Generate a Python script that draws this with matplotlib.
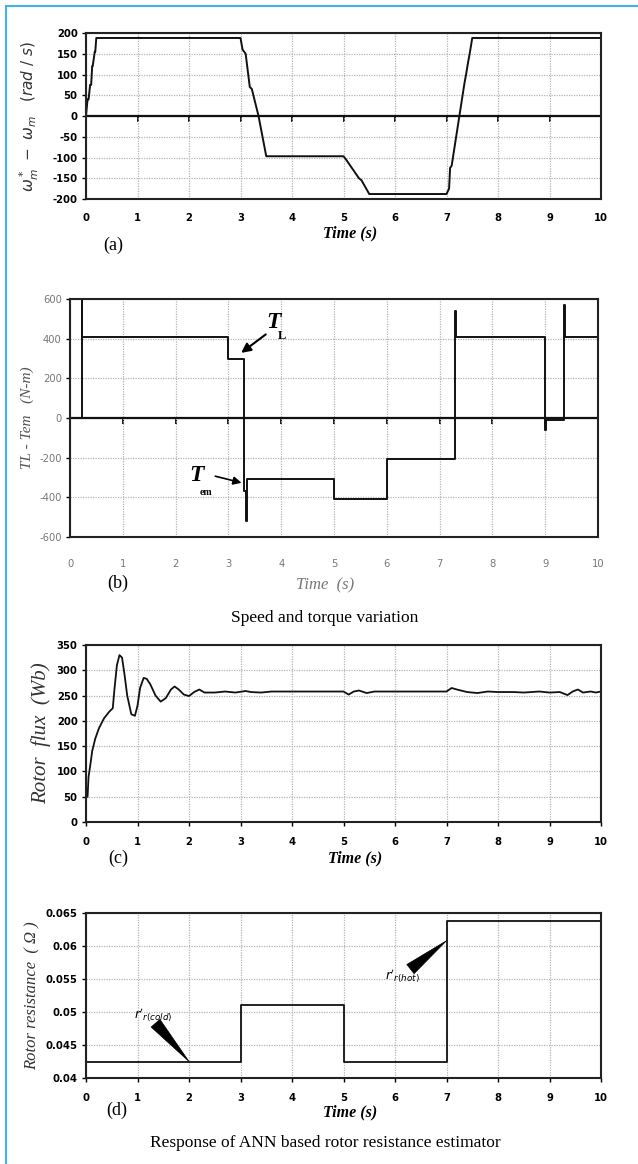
import matplotlib
matplotlib.use("Agg")
import matplotlib.pyplot as plt

plt.rcParams["axes.unicode_minus"] = False

W, H = 638, 1164

# ---------------- data ----------------
# (a) speed error
t_a = [0.0, 0.03, 0.05, 0.08, 0.10, 0.12, 0.13, 0.17, 0.18, 0.20,
       3.0, 3.04, 3.10, 3.18, 3.22, 3.35, 3.5,
       5.0, 5.05, 5.30, 5.35, 5.5,
       7.0, 7.05, 7.07, 7.10, 7.20, 7.25, 7.35, 7.38, 7.42, 7.45, 7.5, 10.0]
w_a = [0, 40, 40, 75, 75, 120, 120, 155, 155, 188,
       188, 160, 150, 70, 65, 0, -97,
       -97, -105, -150, -155, -188,
       -188, -175, -125, -120, -40, 0, 80, 100, 130, 150, 188, 188]
yt_a = [-200, -150, -100, -50, 0, 50, 100, 150, 200]

# (b) torque difference
t_b = [0.0, 0.22, 0.22, 0.22, 3.0, 3.0, 3.3, 3.3, 3.33, 3.33, 3.36, 3.36,
       5.0, 5.0, 6.0, 6.0, 7.3, 7.3, 7.32, 7.32, 9.0, 9.0, 9.02, 9.02,
       9.35, 9.35, 9.37, 9.37, 10.0]
T_b = [0, 0, 600, 410, 410, 300, 300, -370, -370, -520, -520, -310,
       -310, -410, -410, -205, -205, 540, 540, 410, 410, -60, -60, -10,
       -10, 570, 570, 410, 410]
yt_b = [-600, -400, -200, 0, 200, 400, 600]

# (c) rotor flux
t_c = [0.03, 0.05, 0.08, 0.12, 0.18, 0.25, 0.35, 0.45, 0.52, 0.55, 0.60,
       0.65, 0.70, 0.75, 0.80, 0.88, 0.95, 1.00, 1.05, 1.12, 1.18, 1.25,
       1.35, 1.45, 1.55, 1.65, 1.72, 1.80, 1.90, 2.00, 2.10, 2.20, 2.30,
       2.50, 2.70, 2.90, 3.10, 3.20, 3.40, 3.60, 3.70, 4.00, 4.50, 5.00,
       5.10, 5.20, 5.30, 5.45, 5.60, 5.80, 6.00, 6.50, 7.00, 7.10, 7.20,
       7.40, 7.60, 7.80, 8.00, 8.30, 8.50, 8.80, 9.00, 9.20, 9.35, 9.45,
       9.55, 9.65, 9.80, 9.90, 10.0]
f_c = [50, 90, 110, 140, 165, 185, 205, 218, 225, 260, 310,
       330, 325, 290, 250, 213, 210, 230, 265, 285, 283, 272,
       250, 238, 245, 262, 268, 262, 252, 249, 257, 262, 256,
       256, 258, 256, 259, 257, 256, 258, 258, 258, 258, 258,
       252, 258, 260, 255, 258, 258, 258, 258, 258, 265, 262,
       257, 255, 258, 257, 257, 256, 258, 256, 257, 251, 258,
       262, 256, 258, 256, 258]
yt_c = [0, 50, 100, 150, 200, 250, 300, 350]

# (d) rotor resistance estimate
t_d = [0.0, 3.0, 3.0, 5.0, 5.0, 7.0, 7.0, 10.0]
r_d = [0.0425, 0.0425, 0.0511, 0.0511, 0.0425, 0.0425, 0.0638, 0.0638]
yt_d = [0.04, 0.045, 0.05, 0.055, 0.06, 0.065]
yl_d = ["0.04", "0.045", "0.05", "0.055", "0.06", "0.065"]

xt = list(range(0, 11))

# ---------------- figure ----------------
fig = plt.figure(figsize=(W / 100, H / 100), dpi=100)
fig.patch.set_facecolor("white")

# blue frame lines (left + top)
blue = "#3fb6e8"
fig.add_artist(plt.Line2D([6 / W, 6 / W], [0, 1 - 6 / H], color=blue, lw=1.5))
fig.add_artist(plt.Line2D([6 / W, 1], [1 - 6 / H, 1 - 6 / H], color=blue, lw=1.5))


def mk_ax(l, r, t, b):
    return fig.add_axes([l / W, 1 - b / H, (r - l) / W, (b - t) / H])


tick_font = dict(family="DejaVu Sans", weight="bold", stretch="condensed", size=8)
serif = "Liberation Serif"


def style(ax, xlim, ylim, yticks, ylabels=None, light=False):
    ax.set_xlim(*xlim)
    ax.set_ylim(*ylim)
    ax.set_xticks(xt)
    ax.set_yticks(yticks)
    if ylabels is not None:
        ax.set_yticklabels(ylabels)
    ax.grid(True, color="#b5b5b5", ls=(0, (1, 1)), lw=0.9)
    ax.set_axisbelow(True)
    for s in ax.spines.values():
        s.set_linewidth(1.5)
        s.set_color("#222222")
    if light:
        for lab in ax.get_xticklabels() + ax.get_yticklabels():
            lab.set_family("DejaVu Sans")
            lab.set_stretch("condensed")
            lab.set_size(8)
            lab.set_color("#777777")
    else:
        for lab in ax.get_xticklabels() + ax.get_yticklabels():
            lab.set_fontproperties(matplotlib.font_manager.FontProperties(**tick_font))
    ax.tick_params(axis="y", direction="out", length=3, width=1, pad=3)
    ax.tick_params(axis="x", direction="out", length=3, width=1, pad=8)


def zero_ticks(ax):
    sec = ax.secondary_xaxis(0.5)
    sec.set_xticks(xt)
    sec.set_xticklabels([])
    sec.tick_params(direction="in", length=4, width=1.3)
    sec.spines["bottom"].set_visible(False)
    sec.spines["top"].set_visible(False)


# (a)
axa = mk_ax(86, 601, 33, 199)
axa.plot(t_a, w_a, color="#111111", lw=1.4)
axa.axhline(0, color="#111111", lw=1.6)
style(axa, (0, 10), (-200, 200), yt_a)
axa.tick_params(axis="x", length=0, pad=10)
zero_ticks(axa)
axa.set_ylabel(r"$\omega^*_m\ -\ \omega_m$   $(rad\ /\ s)$", fontsize=11, labelpad=8,
               color="#333333")
fig.text(350 / W, 1 - 233 / H, "Time (s)", ha="center", va="center",
         family=serif, style="italic", weight="bold", size=11.5)
fig.text(113 / W, 1 - 245 / H, "(a)", ha="center", va="center", family=serif, size=13)

# (b)
axb = mk_ax(70, 598, 299, 537)
axb.plot(t_b, T_b, color="#111111", lw=1.4)
axb.axhline(0, color="#111111", lw=1.6)
style(axb, (0, 10), (-600, 600), yt_b, light=True)
axb.tick_params(axis="x", length=0, pad=16)
zero_ticks(axb)
axb.set_ylabel("TL - Tem   (N-m)", fontsize=11, style="italic", family=serif,
               color="#555555", labelpad=4)
axb.annotate("", xy=(3.2, 320), xytext=(3.75, 430),
             arrowprops=dict(arrowstyle="-|>", color="black", lw=1.5, mutation_scale=14))
axb.text(3.85, 480, "T", family=serif, style="italic", weight="bold", size=17,
         ha="center", va="center")
axb.text(4.02, 415, "L", family=serif, weight="bold", size=9, ha="center", va="center")
axb.annotate("", xy=(3.3, -330), xytext=(2.7, -290),
             arrowprops=dict(arrowstyle="-|>", color="black", lw=1.2, mutation_scale=12))
axb.text(2.4, -290, "T", family=serif, style="italic", weight="bold", size=17,
         ha="center", va="center")
axb.text(2.58, -375, "em", family=serif, weight="bold", size=7, ha="center", va="center")
fig.text(325 / W, 1 - 585 / H, "Time  (s)", ha="center", va="center",
         family=serif, style="italic", size=12, color="#777777")
fig.text(118 / W, 1 - 583 / H, "(b)", ha="center", va="center", family=serif, size=13)
fig.text(325 / W, 1 - 618 / H, "Speed and torque variation", ha="center", va="center",
         family=serif, size=12.5)

# (c)
axc = mk_ax(86, 601, 645, 822)
axc.plot(t_c, f_c, color="#111111", lw=1.3)
style(axc, (0, 10), (0, 350), yt_c)
axc.set_ylabel("Rotor  flux  (Wb)", fontsize=15, style="italic", family=serif,
               color="#333333", labelpad=4)
fig.text(355 / W, 1 - 858 / H, "Time (s)", ha="center", va="center",
         family=serif, style="italic", weight="bold", size=11.5)
fig.text(118 / W, 1 - 858 / H, "(c)", ha="center", va="center", family=serif, size=13)

# (d)
axd = mk_ax(86, 601, 913, 1078)
axd.plot(t_d, r_d, color="#111111", lw=1.3)
style(axd, (0, 10), (0.04, 0.065), yt_d, yl_d)
axd.set_ylabel("Rotor resistance  ( Ω )", fontsize=12, style="italic", family=serif,
               color="#333333", labelpad=4)
axd.annotate("", xy=(2.0, 0.0425), xytext=(1.35, 0.0483),
             arrowprops=dict(arrowstyle="wedge,tail_width=0.6", color="black", lw=0.5,
                             mutation_scale=14, shrinkA=0, shrinkB=0))
axd.text(1.3, 0.0495, r"$r'_{r(cold)}$", size=9, ha="center", va="center")
axd.annotate("", xy=(7.0, 0.0608), xytext=(6.3, 0.0565),
             arrowprops=dict(arrowstyle="wedge,tail_width=0.6", color="black", lw=0.5,
                             mutation_scale=14, shrinkA=0, shrinkB=0))
axd.text(6.15, 0.0555, r"$r'_{r(hot)}$", size=9, ha="center", va="center")
fig.text(350 / W, 1 - 1112 / H, "Time (s)", ha="center", va="center",
         family=serif, style="italic", weight="bold", size=11.5)
fig.text(117 / W, 1 - 1110 / H, "(d)", ha="center", va="center", family=serif, size=13)
fig.text(325 / W, 1 - 1143 / H, "Response of ANN based rotor resistance estimator",
         ha="center", va="center", family=serif, size=12.5)

fig.savefig("out.png", dpi=100, facecolor="white")
